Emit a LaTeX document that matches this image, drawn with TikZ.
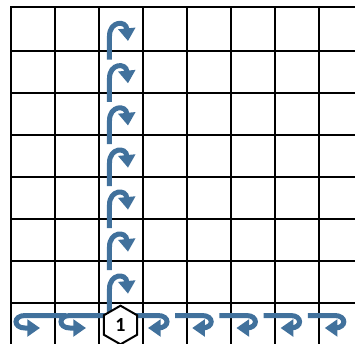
\documentclass[tikz,border=0pt]{standalone}
\usepackage{fontspec}
\usepackage{xcolor}
\usetikzlibrary{arrows.meta,shapes.geometric}
\newfontfamily\hexfont{Carlito}
\definecolor{turnblue}{RGB}{65,113,156}

\begin{document}
\begin{tikzpicture}[x=0.75pt,y=-0.75pt,
  gridline/.style={black,line width=1.5pt,line cap=rect},
  turn/.style={turnblue,line width=3.75pt,-{Triangle[width=12.5pt,length=9.5pt]}},
  hexa/.style={draw,line width=1.5pt,fill=white,regular polygon,regular polygon sides=6,
    shape border rotate=30,minimum size=29pt,inner sep=0pt},
  every node/.style={font=\hexfont\bfseries\fontsize{15}{15}\selectfont}]
\useasboundingbox (0,0) rectangle (355,344);
% grid
\draw[gridline] (11,7.3) -- (355,7.3);
\draw[gridline] (11,50.5) -- (355,50.5);
\draw[gridline] (11,92.8) -- (355,92.8);
\draw[gridline] (11,135) -- (355,135);
\draw[gridline] (11,177.2) -- (355,177.2);
\draw[gridline] (11,219.2) -- (355,219.2);
\draw[gridline] (11,261.2) -- (355,261.2);
\draw[gridline] (11,303.2) -- (355,303.2);
\draw[gridline] (11,7.3) -- (11,344);
\draw[gridline] (54.7,7.3) -- (54.7,344);
\draw[gridline] (98.7,7.3) -- (98.7,344);
\draw[gridline] (142.7,7.3) -- (142.7,344);
\draw[gridline] (187,7.3) -- (187,344);
\draw[gridline] (231,7.3) -- (231,344);
\draw[gridline] (275,7.3) -- (275,344);
\draw[gridline] (319,7.3) -- (319,344);
% turns going up
\draw[turn] (109.5,59.5) -- (109.5,36) .. controls (109.5,21) and (126,20) .. (128,41);
\draw[turn] (109.5,101.8) -- (109.5,78.3) .. controls (109.5,63.3) and (126,62.3) .. (128,83.3);
\draw[turn] (109.5,144) -- (109.5,120.5) .. controls (109.5,105.5) and (126,104.5) .. (128,125.5);
\draw[turn] (109.5,186.2) -- (109.5,162.7) .. controls (109.5,147.7) and (126,146.7) .. (128,167.7);
\draw[turn] (109.5,228.2) -- (109.5,204.7) .. controls (109.5,189.7) and (126,188.7) .. (128,209.7);
\draw[turn] (109.5,270.2) -- (109.5,246.7) .. controls (109.5,231.7) and (126,230.7) .. (128,251.7);
\draw[turn] (109.5,312.2) -- (109.5,288.7) .. controls (109.5,273.7) and (126,272.7) .. (128,293.7);
% turns going left
\draw[turn] (66,315.5) -- (25,315.5) .. controls (13,315.5) and (13,328) .. (25,328) -- (40,328);
\draw[turn] (112,315.5) -- (70,315.5) .. controls (58,315.5) and (58,328) .. (70,328) -- (86,328);
% turns going right
\draw[turn] (131,315.5) -- (158,315.5) .. controls (170,315.5) and (170,328) .. (158,328) -- (148,328);
\draw[turn] (175.2,315.5) -- (202.2,315.5) .. controls (214.2,315.5) and (214.2,328) .. (202.2,328) -- (192.2,328);
\draw[turn] (219.4,315.5) -- (246.4,315.5) .. controls (258.4,315.5) and (258.4,328) .. (246.4,328) -- (236.4,328);
\draw[turn] (263.6,315.5) -- (290.6,315.5) .. controls (302.6,315.5) and (302.6,328) .. (290.6,328) -- (280.6,328);
\draw[turn] (307.8,315.5) -- (334.8,315.5) .. controls (346.8,315.5) and (346.8,328) .. (334.8,328) -- (324.8,328);
% start cell
\node[hexa] (start) at (120.5,325) {1};
\end{tikzpicture}
\end{document}
